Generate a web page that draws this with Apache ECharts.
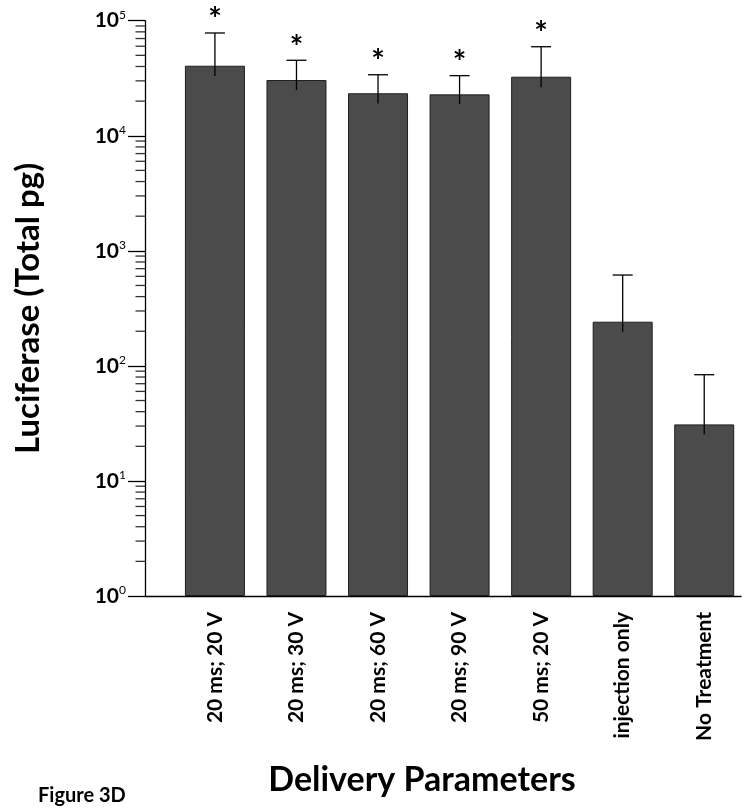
<!DOCTYPE html>
<html><head><meta charset="utf-8">
<script src="https://cdn.jsdelivr.net/npm/echarts@6/dist/echarts.min.js"></script>
<style>html,body{margin:0;padding:0;background:#fff}#c{width:745px;height:812px}</style>
</head><body><div id="c"></div>
<script>
const categories = ['20 ms; 20 V','20 ms; 30 V','20 ms; 60 V','20 ms; 90 V','50 ms; 20 V','injection only','No Treatment'];
const means = [40600, 30500, 23400, 22900, 32600, 242, 31];
const errLow = [33000, 25000, 19100, 18900, 26400, 198, 25.4];
const errHigh = [78200, 45300, 33900, 33300, 59400, 616, 83.8];
const significant = [true, true, true, true, true, false, false];
const decadeExponents = [0,1,2,3,4];
const minorMantissas = [2,3,4,5,6,7,8,9];

const FONT = 'Lato';
const minorTickValues = [];
decadeExponents.forEach(e => minorMantissas.forEach(m => minorTickValues.push([0, m * Math.pow(10, e)])));

const chart = echarts.init(document.getElementById('c'), null, {renderer:'canvas'});
const errData = categories.map((c,i)=>[i, errLow[i], errHigh[i], significant[i]?1:0]);

chart.setOption({
  animation:false,
  backgroundColor:'#fff',
  title:[{text:'Figure 3D', left:33, top:781, textStyle:{fontFamily:FONT, fontWeight:'bold', fontSize:20, color:'#000'}}],
  grid:[
    {left:145, right:4, top:20.7, bottom:216},
    {left:174.15, right:-5.25, top:20.7, bottom:216}
  ],
  xAxis:[
    {gridIndex:0, type:'value', min:0, max:1, axisLine:{show:true, lineStyle:{color:'#000', width:1.3}},
     axisTick:{show:false}, axisLabel:{show:false}, splitLine:{show:false},
     name:'Delivery Parameters', nameLocation:'middle', nameGap:167,
     nameTextStyle:{fontFamily:FONT, fontWeight:'bold', fontSize:34, color:'#000', padding:[0,42,0,0]}},
    {gridIndex:1, type:'category', data:categories, axisLine:{show:false}, axisTick:{show:false},
     axisLabel:{rotate:90, margin:16, fontFamily:FONT, fontWeight:'bold', fontSize:21, color:'#000', interval:0}}
  ],
  yAxis:[
    {gridIndex:0, type:'log', logBase:10, min:1, max:100000,
     axisLine:{show:true, lineStyle:{color:'#000', width:1.3}},
     axisTick:{show:true, inside:false, length:17, lineStyle:{color:'#000', width:1.3}},
     minorTick:{show:false},
     splitLine:{show:false},
     axisLabel:{margin:19, formatter:(v)=>'{b|10}{s|'+Math.round(Math.log10(v))+'}',
       rich:{b:{fontFamily:FONT, fontWeight:'bold', fontSize:21, color:'#000', lineHeight:24},
             s:{fontFamily:FONT, fontSize:12, color:'#000', verticalAlign:'top', lineHeight:12, padding:[0,0,12,0]}}},
     name:'Luciferase (Total pg)', nameLocation:'middle', nameGap:100,
     nameTextStyle:{fontFamily:FONT, fontWeight:'bold', fontSize:33, color:'#000'}},
    {gridIndex:1, type:'log', logBase:10, min:1, max:100000, show:false}
  ],
  series:[
    {type:'custom', xAxisIndex:0, yAxisIndex:0, data:minorTickValues, clip:false, silent:true,
     renderItem:(params, api)=>{
       const p = api.coord([api.value(0), api.value(1)]);
       return {type:'line', shape:{x1:p[0]-9.5, y1:p[1], x2:p[0], y2:p[1]}, style:{stroke:'#333', lineWidth:1.3}};
     }},
    {type:'bar', xAxisIndex:1, yAxisIndex:1, data:means, barWidth:60,
     itemStyle:{color:'#4b4b4b', borderColor:'#1e1e1e', borderWidth:1}},
    {type:'custom', xAxisIndex:1, yAxisIndex:1, data:errData, z:10, clip:false,
     renderItem:(params, api)=>{
       const x = api.value(0);
       const lo = api.coord([x, api.value(1)]);
       const hi = api.coord([x, api.value(2)]);
       const children = [
         {type:'line', shape:{x1:hi[0], y1:lo[1], x2:hi[0], y2:hi[1]}, style:{stroke:'#000', lineWidth:1.3}},
         {type:'line', shape:{x1:hi[0]-10, y1:hi[1], x2:hi[0]+10, y2:hi[1]}, style:{stroke:'#000', lineWidth:1.3}}
       ];
       if (api.value(3)) children.push({type:'text', style:{text:'*', x:hi[0], y:hi[1]-12, align:'center', verticalAlign:'middle',
         font:'bold 32px '+FONT, fill:'#000'}});
       return {type:'group', children};
     }}
  ]
});
</script></body></html>
